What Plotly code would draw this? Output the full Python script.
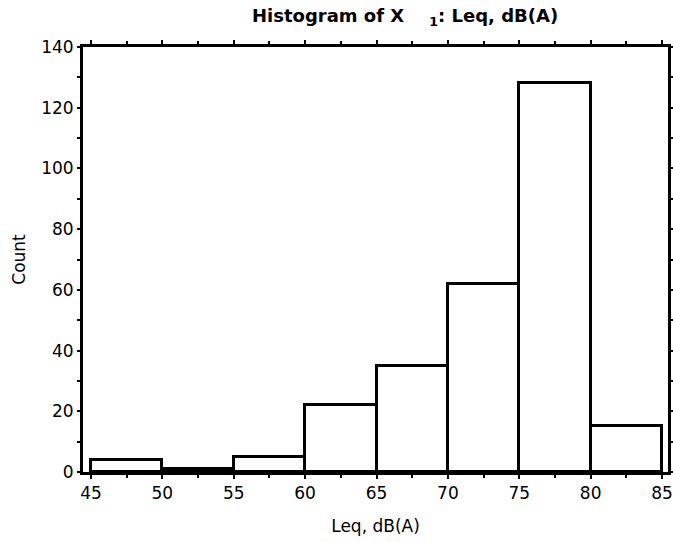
import plotly.graph_objects as go

bin_starts = [45, 50, 55, 60, 65, 70, 75, 80]
bin_width = 5
counts = [4, 1, 5, 22, 35, 62, 128, 15]
x_ticks = [45, 50, 55, 60, 65, 70, 75, 80, 85]
y_ticks = [0, 20, 40, 60, 80, 100, 120, 140]

centers = [s + bin_width / 2 for s in bin_starts]

fig = go.Figure()
fig.add_trace(go.Bar(
    x=centers, y=counts, width=[bin_width] * len(counts),
    marker=dict(color="white", line=dict(color="black", width=3)),
    showlegend=False,
))

tick_font = dict(family="DejaVu Sans, Verdana, sans-serif", size=17, color="black")
title_font = dict(family="DejaVu Sans, Verdana, sans-serif", size=17, color="black")

fig.update_layout(
    width=673, height=542,
    margin=dict(l=83, r=5, t=47, b=70),
    paper_bgcolor="white", plot_bgcolor="white",
    font=tick_font,
    bargap=0,
    xaxis=dict(
        range=[44.44, 85.42], tickvals=x_ticks, ticks="outside", ticklen=4,
        tickwidth=2, tickcolor="black", showline=True, linecolor="black",
        linewidth=3, mirror="ticks", showgrid=False, zeroline=False,
        automargin=False, ticklabeloverflow="allow",
        minor=dict(dtick=2.5, tick0=45, ticks="outside", ticklen=3, tickwidth=2, tickcolor="black"),
        title=dict(text="Leq, dB(A)", standoff=18, font=title_font),
        tickfont=tick_font,
    ),
    yaxis=dict(
        range=[0, 140], tickvals=y_ticks, ticks="outside", ticklen=3,
        tickwidth=2, tickcolor="black", showline=True, linecolor="black",
        linewidth=3, mirror="ticks", showgrid=False, zeroline=False,
        automargin=False, ticklabeloverflow="allow",
        minor=dict(dtick=10, tick0=0, ticks="outside", ticklen=3, tickwidth=2, tickcolor="black"),
        title=dict(text="Count", standoff=12, font=title_font),
        tickfont=tick_font,
    ),
    annotations=[dict(
        text="<b>Histogram of X    <sub>1</sub>: Leq, dB(A)</b>",
        xref="paper", yref="paper", x=(405 - 83) / 585, y=1,
        yshift=16, xanchor="center", yanchor="bottom", showarrow=False,
        font=dict(family="DejaVu Sans, Verdana, sans-serif", size=18, color="black"),
    )],
)

fig.write_html("out.html")
